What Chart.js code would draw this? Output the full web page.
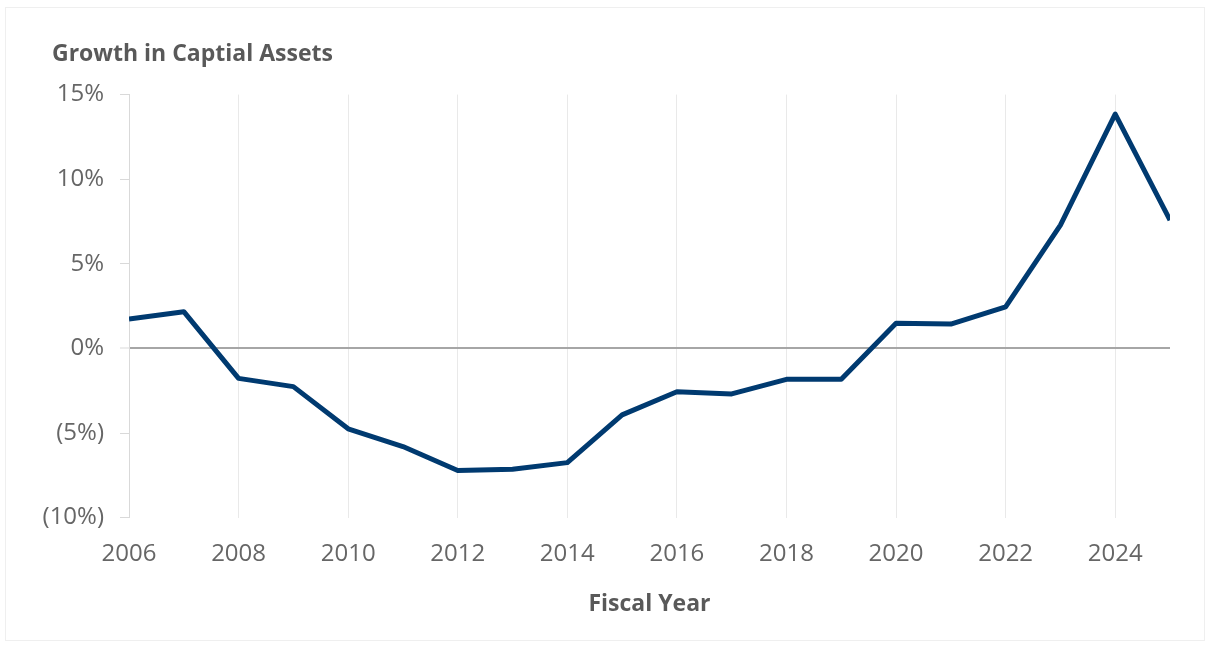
<!DOCTYPE html>
<html>
<head>
<meta charset="utf-8">
<title>Growth in Captial Assets</title>
<script src="https://cdn.jsdelivr.net/npm/chart.js@4.4.1/dist/chart.umd.min.js"></script>
<style>
  html, body { margin: 0; padding: 0; background: #fff; }
  .frame {
    position: absolute; left: 5px; top: 7px; width: 1200px; height: 634px;
    border: 1px solid #efefef; box-sizing: border-box;
  }
  .chartBox { position: absolute; left: 0; top: 0; width: 1212px; height: 648px; }
</style>
</head>
<body>
<div class="frame"></div>
<div class="chartBox"><canvas id="assetChart" width="1212" height="648"></canvas></div>
<script>
// fiscal years and yearly growth (%)
const years = ['2006', '2007', '2008', '2009', '2010', '2011', '2012', '2013', '2014', '2015',
               '2016', '2017', '2018', '2019', '2020', '2021', '2022', '2023', '2024', '2025'];
const growth = [1.74, 2.17, -1.77, -2.26, -4.75, -5.8, -7.22, -7.14, -6.75, -3.93,
                -2.56, -2.69, -1.83, -1.83, 1.48, 1.44, 2.46, 7.29, 13.85, 7.58];
const yMin = -10, yMax = 15, yStep = 5;

const labelColor = '#666666';
const titleColor = '#595959';
const fontFamily = '"Open Sans", "Noto Sans", sans-serif';

// negative percentages shown in parentheses
function pctLabel(v) {
  return v < 0 ? '(' + Math.abs(v) + '%)' : v + '%';
}

// chart title starts a bit right of the y labels
const titleIndent = {
  id: 'titleIndent',
  afterLayout(chart) {
    if (chart.titleBlock) chart.titleBlock.left = 52;
  }
};

const ctx = document.getElementById('assetChart').getContext('2d');
const assetChart = new Chart(ctx, {
  type: 'line',
  data: {
    labels: years,
    datasets: [{
      label: 'Growth in Captial Assets',
      data: growth,
      borderColor: '#003a70',
      borderWidth: 5,
      borderJoinStyle: 'round',
      pointRadius: 0,
      pointHoverRadius: 0,
      tension: 0,
      fill: false,
      clip: 0
    }]
  },
  options: {
    responsive: false,
    animation: false,
    layout: {
      padding: { left: 39, right: 42, top: 0, bottom: 30 }
    },
    plugins: {
      legend: { display: false },
      tooltip: { enabled: false },
      title: {
        display: true,
        text: 'Growth in Captial Assets',
        align: 'start',
        color: titleColor,
        font: { family: fontFamily, size: 23, weight: 'bold' },
        padding: { top: 41, bottom: 26 }
      }
    },
    scales: {
      x: {
        type: 'category',
        offset: false,
        border: { display: false },
        grid: {
          drawTicks: false,
          // only even years get a gridline, the first one sits on the axis
          color: c => (c.index % 2 === 0 && c.index > 0 && c.index < years.length - 1) ? '#e9e9e9' : 'rgba(0,0,0,0)',
          lineWidth: 1
        },
        ticks: {
          autoSkip: false,
          maxRotation: 0,
          padding: 22,
          color: labelColor,
          font: { family: fontFamily, size: 24 },
          callback: function (val, i) { return i % 2 === 0 ? years[i] : ''; }
        },
        title: {
          display: true,
          text: 'Fiscal Year',
          color: titleColor,
          font: { family: fontFamily, size: 23, weight: 'bold' },
          padding: { top: 0, bottom: 0 }
        }
      },
      y: {
        min: yMin,
        max: yMax,
        border: { display: true, color: '#d9d9d9', width: 1 },
        grid: {
          drawOnChartArea: true,
          drawTicks: true,
          tickLength: 9,
          tickColor: '#d9d9d9',
          tickWidth: 1,
          color: c => (c.tick && c.tick.value === 0) ? '#a6a6a6' : 'rgba(0,0,0,0)',
          lineWidth: c => (c.tick && c.tick.value === 0) ? 2 : 1
        },
        ticks: {
          stepSize: yStep,
          padding: 16,
          color: labelColor,
          font: { family: fontFamily, size: 24 },
          callback: v => pctLabel(v)
        },
        afterFit: function (scale) { scale.width = 90; }
      }
    }
  },
  plugins: [titleIndent]
});
</script>
</body>
</html>
